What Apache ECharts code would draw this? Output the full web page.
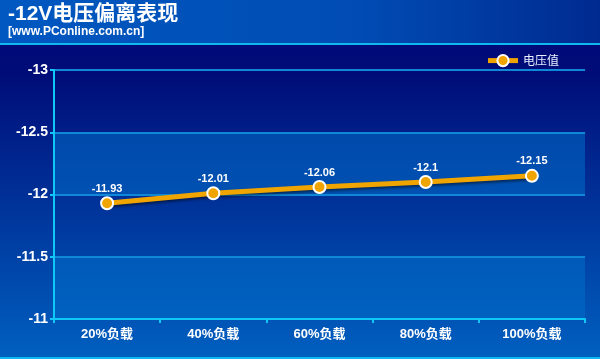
<!DOCTYPE html>
<html><head><meta charset="utf-8">
<script src="https://cdn.jsdelivr.net/npm/echarts@6/dist/echarts.min.js"></script>
<style>html,body{margin:0;padding:0;}#c{width:600px;height:359px;}</style>
</head><body><div id="c"></div>
<script>
var categories = ['20%负载', '40%负载', '60%负载', '80%负载', '100%负载'];
var values = [-11.93, -12.01, -12.06, -12.1, -12.15];
var seriesName = '电压值';
var titleText = '-12V电压偏离表现';
var subText = '[www.PConline.com.cn]';

var chart = echarts.init(document.getElementById('c'));
chart.setOption({
  animation: false,
  backgroundColor: {type:'linear', x:0, y:0, x2:0, y2:1, colorStops:[
    {offset:0, color:'#00087a'}, {offset:0.2, color:'#000c78'}, {offset:1, color:'#0060c0'}]},
  graphic: [
    {type:'rect', left:0, top:0, shape:{width:600, height:44}, z:-1,
     style:{fill:{type:'linear', x:0, y:0, x2:1, y2:0, colorStops:[{offset:0,color:'#0058c0'},{offset:0.6,color:'#004cb4'},{offset:1,color:'#002a90'}]}}},
    {type:'rect', left:0, top:43, shape:{width:600, height:2}, style:{fill:'#10b8f0'}},
    {type:'rect', left:0, top:357, shape:{width:600, height:2}, style:{fill:'#10b8f0'}},
    {type:'text', left:8, top:4, style:{text:titleText, fill:'#ffffff', font:'bold 21px "Liberation Sans", "Noto Sans CJK SC", sans-serif'}},
    {type:'text', left:8, top:26, style:{text:subText, fill:'#ffffff', font:'bold 12px "Liberation Sans", sans-serif'}}
  ],
  legend: {
    data:[seriesName], right:36, top:49, itemWidth:30, itemHeight:14, itemGap:8,
    lineStyle:{width:5},
    textStyle:{color:'#e8eeff', fontSize:12, fontFamily:'"Noto Sans CJK SC", sans-serif'}
  },
  grid: {left:54, right:15, top:70, bottom:40},
  xAxis: {
    type:'category', data:categories, boundaryGap:true,
    axisLine:{lineStyle:{color:'#10c8f8', width:2}},
    axisTick:{show:true, length:4, lineStyle:{color:'#10c8f8', width:2}},
    axisLabel:{color:'#ffffff', fontSize:13, fontWeight:'bold', margin:9, fontFamily:'"Liberation Sans", "Noto Sans CJK SC", sans-serif'},
    splitLine:{show:false}
  },
  yAxis: {
    type:'value', min:-13, max:-11, interval:0.5, inverse:true,
    axisLine:{show:true, lineStyle:{color:'#10c8f8', width:2}},
    axisTick:{show:true, length:4, lineStyle:{color:'#10c8f8', width:2}},
    axisLabel:{color:'#ffffff', fontSize:14, fontWeight:'bold', margin:6, fontFamily:'"Liberation Sans", sans-serif'},
    splitLine:{show:true, lineStyle:{color:'#1088d8', width:2}},
    splitArea:{show:true, areaStyle:{color:['rgba(0,0,0,0)','rgba(0,110,200,0.55)']}}
  },
  series: [{
    name:seriesName, type:'line', data:values,
    symbol:'circle', symbolSize:12,
    lineStyle:{color:'#f0a400', width:5, shadowColor:'rgba(0,0,0,0.5)', shadowBlur:3, shadowOffsetY:2},
    itemStyle:{color:'#f0a400', borderColor:'#ffffff', borderWidth:2},
    label:{show:true, position:'top', distance:2, color:'#ffffff', fontSize:11, fontWeight:'bold', fontFamily:'"Liberation Sans", sans-serif'}
  }]
});
</script></body></html>
